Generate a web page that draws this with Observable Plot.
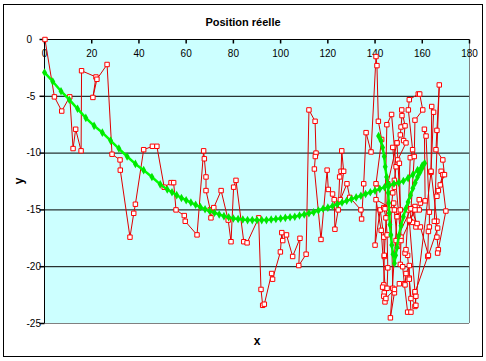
<!DOCTYPE html>
<html><head><meta charset="utf-8">
<script src="https://cdn.jsdelivr.net/npm/d3@7"></script>
<script src="https://cdn.jsdelivr.net/npm/@observablehq/plot@0.6"></script>
<style>
body{margin:0;background:#fff;}
#wrap{position:relative;width:486px;height:361px;overflow:hidden;background:#fff;}
#border{position:absolute;left:3px;top:4px;width:480px;height:353px;box-sizing:border-box;border:1px solid #000;pointer-events:none;}
.lbl{position:absolute;font-family:"Liberation Sans",Arial,sans-serif;font-weight:bold;color:#000;white-space:nowrap;line-height:1;}
#title{left:243px;top:17px;transform:translateX(-50%);font-family:"Liberation Sans Narrow","Arial Narrow","Liberation Sans",Arial,sans-serif;font-size:11px;}
#xl{left:257px;top:335px;transform:translateX(-50%);font-size:12px;}
#yl{left:19px;top:181px;transform:translate(-50%,-50%) rotate(-90deg);font-size:12px;}
svg{position:absolute;left:0;top:0;}
</style>
</head><body>
<div id="wrap">
<div id="title" class="lbl">Position réelle</div>
<div id="xl" class="lbl">x</div>
<div id="yl" class="lbl">y</div>
<div id="border"></div>
</div>
<script>
const xTicks = [0, 20, 40, 60, 80, 100, 120, 140, 160, 180];
const yTicks = [0, -5, -10, -15, -20, -25];
const gridY = [-5, -10, -15, -20];

// Red series (position réelle) - first part
const redX1 = [0.2,4.2,7.3,10.7,12.1,13.2,15.5,15.7,21.8,20.5,22.2,26.5,28.6,32,32.1,36.2,37.8,38.5,42,45.7,47.6,50.7,53.6,54.7,55.7,59.2,59.6,64.6,67.4,67.7,68.4,68.4,70.2,70.5,71.7,74.8,77.8,79,80.1,81.1,84.4,85.8,90.7,91.7,92.4,93.1,96.2,96.6,99.9,100.5,100.9,102.5,105.1,108.2,107.7,110.8,112,114.6,115,114.7,114.3,117.1,119.7,120.2,122,122.7,123,124.4,125,125.6,125.9,126.7,125.3,128.1,129.3,134,134.3];
const redY1 = [0,-5.05,-6.3,-5.05,-9.6,-7.9,-9.8,-2.75,-3.3,-5.1,-3.5,-2.2,-10.1,-10.6,-11.5,-17.4,-15.3,-14.5,-9.7,-9.4,-9.4,-13.0,-12.6,-12.6,-15.0,-15.5,-16.0,-17.2,-9.8,-10.5,-12.1,-13.3,-15.0,-15.7,-14.8,-13.3,-15.9,-17.8,-13.0,-12.4,-17.8,-17.9,-15.7,-22.0,-23.4,-23.3,-20.6,-21.1,-18.7,-17.0,-17.7,-17.2,-19.1,-17.5,-19.9,-18.9,-6.2,-7.2,-10.0,-10.3,-11.4,-17.6,-11.5,-13.2,-13.6,-14.1,-16.7,-15.0,-12.1,-11.6,-9.8,-11.6,-14.1,-12.7,-13.9,-15.0,-15.8];
// Red series - dense part (x 135 to 170)
const redX2 = [135.2,136.2,138.3,140.4,140.8,141.4,142.8,140.4,140.8,140,142.2,143.7,143.9,143.7,143.2,143.9,143.7,144.2,145.1,145.4,145.1,144.6,143.7,144.2,145,147,148.9,148.2,148.2,147.5,146.8,147.5,148.2,146.5,149.3,149.9,150.7,149.3,150.7,151,151.4,151.3,152.7,152.1,153.1,149.6,150.3,151,150.7,151.7,152.4,153.8,155.2,154.5,153.8,152.7,153.1,154.1,154.9,155.9,154.1,154.5,158.3,158.9,160.2,156.9,156.6,154.9,155.9,157.3,156.6,156.9,158.7,159.2,158.7,161.2,160.9,161.6,163,163,162.6,162.3,156.9,157.3,156.9,163.7,164,164.8,163.7,166.2,166.2,166.8,166.5,170,168,168.7,166.2,166.8,167.6,169.4,168.7,165.8,166.2,167.2];
const redY2 = [-12.7,-8.2,-9.9,-1.5,-2.3,-7.2,-8.8,-12.7,-13.1,-18.1,-15.0,-17.4,-19.1,-21.6,-21.8,-22.3,-22.6,-23.1,-21.9,-20.1,-17.2,-15.7,-14.8,-14.9,-7.5,-6.6,-11.2,-12.4,-13.0,-13.5,-15.0,-21.9,-22.3,-24.5,-15.6,-15.1,-15.0,-9.1,-8.4,-7.7,-6.7,-6.2,-7.6,-8.9,-9.1,-10.6,-10.9,-17.4,-19.8,-20.0,-21.5,-24.0,-24.0,-21.0,-19.0,-18.8,-18.5,-15.0,-10.4,-9.7,-6.2,-5.3,-4.8,-4.8,-6.2,-7.1,-10.3,-16.0,-16.1,-16.5,-14.8,-14.7,-15.0,-14.4,-14.1,-14.2,-7.9,-8.5,-15.2,-16.5,-16.9,-19.1,-22.3,-22.6,-23.5,-11.7,-5.9,-6.4,-11.6,-16.0,-17.4,-18.5,-18.8,-15.1,-11.6,-11.9,-13.8,-13.3,-12.8,-11.9,-10.6,-9.7,-8.0,-4.0];
// Red series - end of the dense part
const redX3 = [165.1,166.5,162.6,159.2,157.8,155.2,148.9,149.6,147.9,148.2,140.4,142.6,144.6,148.2,150.3,152.7,153.1,154.5,154.5,155.2,157.3,156.9,154.5,156.9,151,147.5,149.3,145.4,143.9];
const redY3 = [-16.0,-16.6,-19.0,-16.5,-16.2,-14.9,-17.7,-18.2,-14.4,-15.0,-14.1,-16.8,-22.8,-22.0,-21.5,-21.6,-20.6,-19.9,-21.1,-22.8,-23.4,-22.2,-15.9,-15.0,-17.7,-9.5,-9.1,-12.7,-19.0];

// Green series (estimated path)
const greenX = [0,3.5,7,10.5,14,17.5,21,24.5,28,31.5,35,38.5,42,45.5,49,52,54,56,58,60,62,64,66,68,70,72,74,76,78,80,82,84,86,88,90,92,94,96,98,100,102,104,106,108,110,112,114,116,118,120,122,124,126,128,130,132,134,136,138,140,142,144,146,148,150,152,154,156,158,160,161,160,159,158,157,156,155,154,153,152,151,150,149.3,148.7,148.2,147.6,147.1,146.7,146.3,146,145.8,145.6,145.4,144.9,144.3,143.9,143.2,142.5,141.5];
const greenY = [-2.9,-3.7,-4.55,-5.3,-6.1,-6.9,-7.6,-8.2,-8.9,-9.6,-10.3,-10.95,-11.5,-12.1,-12.75,-13.2,-13.45,-13.7,-13.95,-14.15,-14.35,-14.55,-14.75,-14.95,-15.1,-15.25,-15.4,-15.55,-15.65,-15.75,-15.8,-15.85,-15.9,-15.9,-15.9,-15.9,-15.9,-15.85,-15.8,-15.75,-15.7,-15.65,-15.6,-15.5,-15.4,-15.3,-15.2,-15.05,-14.9,-14.8,-14.65,-14.5,-14.35,-14.2,-14.05,-13.9,-13.75,-13.6,-13.45,-13.3,-13.15,-13.0,-12.85,-12.7,-12.6,-12.45,-12.2,-11.9,-11.5,-11.1,-10.9,-11.3,-11.7,-12.1,-12.6,-13.1,-13.7,-14.3,-14.9,-15.6,-16.4,-17.3,-18.3,-19.0,-19.7,-18.9,-18.1,-17.2,-16.3,-15.3,-14.4,-13.5,-12.7,-12.1,-11.2,-10.3,-9.5,-8.9,-8.5];

const redXAll = redX1.concat(redX2, redX3);
const redYAll = redY1.concat(redY2, redY3);
const red = redXAll.map((x, i) => ({x, y: redYAll[i]}));
const green = greenX.map((x, i) => ({x, y: greenY[i]}));

const tickDown = {draw(ctx) { ctx.moveTo(0, 0); ctx.lineTo(0, 4); }};
const tickLeft = {draw(ctx) { ctx.moveTo(0, 0); ctx.lineTo(-5, 0); }};

const chart = Plot.plot({
  width: 486, height: 361,
  marginTop: 39, marginLeft: 44, marginRight: 17, marginBottom: 38,
  x: {domain: [0, 180], axis: null},
  y: {domain: [-25, 0], axis: null},
  style: {fontFamily: "'Liberation Sans Narrow','Arial Narrow','Liberation Sans',Arial,sans-serif", fontSize: "10px", background: "transparent", color: "#000"},
  marks: [
    Plot.frame({fill: "#ccffff", stroke: null}),
    Plot.ruleY(gridY, {stroke: "#000", strokeWidth: 1}),
    Plot.ruleY([-25], {stroke: "#808080"}),
    Plot.ruleX([180], {stroke: "#808080"}),
    Plot.ruleY([0], {stroke: "#000"}),
    Plot.ruleX([0], {stroke: "#000"}),
    Plot.dot(xTicks, {x: d => d, y: 0, symbol: tickDown, stroke: "#000", fill: "none"}),
    Plot.dot(yTicks, {x: 0, y: d => d, symbol: tickLeft, stroke: "#000", fill: "none"}),
    Plot.text(xTicks, {x: d => d, y: 0, dy: 14, text: d => String(d), fill: "#000"}),
    Plot.text(yTicks, {y: d => d, frameAnchor: "left", dx: -18, textAnchor: "start", text: d => String(d), fill: "#000"}),
    Plot.line(red, {x: "x", y: "y", stroke: "#e00000", strokeWidth: 1}),
    Plot.dot(red, {x: "x", y: "y", symbol: "square", r: 2.5, stroke: "#ff0000", fill: "#ffffff", strokeWidth: 1}),
    Plot.line(green, {x: "x", y: "y", stroke: "#00ff00", strokeWidth: 2.5}),
    Plot.dot(green, {x: "x", y: "y", symbol: "diamond", r: 2.6, fill: "#00e600", stroke: null})
  ]
});
document.getElementById("wrap").prepend(chart);
</script>
</body></html>
